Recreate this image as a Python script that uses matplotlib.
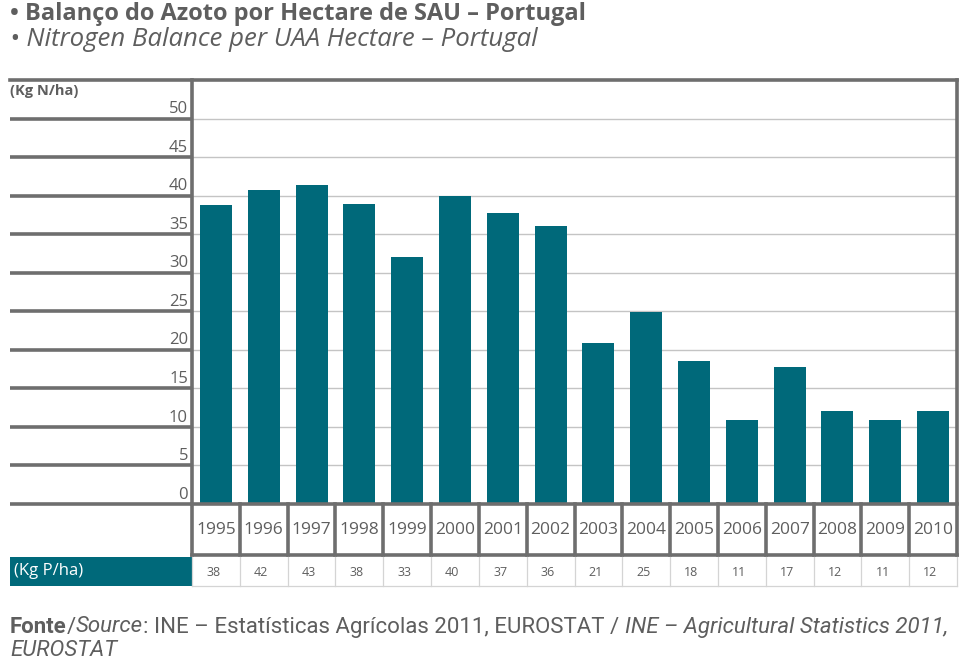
import matplotlib
matplotlib.use("Agg")
import matplotlib.pyplot as plt
from matplotlib.lines import Line2D
from matplotlib.patches import Rectangle
from matplotlib.transforms import blended_transform_factory
import numpy as np

years = ["1995", "1996", "1997", "1998", "1999", "2000", "2001", "2002",
         "2003", "2004", "2005", "2006", "2007", "2008", "2009", "2010"]
n_values = [38.8, 40.7, 41.4, 38.9, 32.0, 40.0, 37.7, 36.0,
            20.9, 24.9, 18.5, 10.9, 17.8, 12.1, 10.9, 12.1]
p_values = [38, 42, 43, 38, 33, 40, 37, 36, 21, 25, 18, 11, 17, 12, 11, 12]
yticks = [0, 5, 10, 15, 20, 25, 30, 35, 40, 45, 50]

TEAL = "#00697a"
DARK = "#6e6e6e"
LIGHT = "#c4c4c4"
TXT = "#5e5e5e"

W, H = 973, 665
fig = plt.figure(figsize=(W / 100, H / 100), dpi=100)
fx = lambda x: x / W
fy = lambda y: 1 - y / H

L, R, T, B = 192, 957, 80, 504
ax = fig.add_axes([fx(L), fy(B), fx(R) - fx(L), fy(T) - fy(B)])
ax.set_xlim(-0.5, len(years) - 0.5)
ax.set_ylim(0, 55)
for s in ax.spines.values():
    s.set_visible(False)
ax.set_xticks([])
ax.set_yticks([])

# light grid inside
for v in yticks[1:]:
    ax.axhline(v, color=LIGHT, lw=1.0, zorder=0)

x = np.arange(len(years))
ax.bar(x, n_values, width=0.67, color=TEAL, zorder=2)

bt = blended_transform_factory(fig.transFigure, ax.transData)
# left thick grid lines + tick labels
for v in yticks:
    fig.add_artist(Line2D([fx(10), fx(L)], [v, v], transform=bt, color=DARK, lw=2.6, solid_capstyle="butt"))
for v in yticks:
    ax.annotate(str(v), xy=(fx(188), v), xycoords=bt, xytext=(0, 1.0), textcoords="offset points",
                ha="right", va="bottom", fontsize=12, color=TXT, family="Open Sans")

# frame
def fline(x0, y0, x1, y1, color=DARK, lw=2.6):
    fig.add_artist(Line2D([fx(x0), fx(x1)], [fy(y0), fy(y1)], transform=fig.transFigure,
                          color=color, lw=lw, solid_capstyle="projecting"))

fline(10, T, R, T)
fline(L, T, L, 555)
fline(R, T, R, 555)
fline(L, B, R, B)
fline(L, 555, R, 555)

bx = blended_transform_factory(ax.transData, fig.transFigure)
for i in range(1, len(years)):
    fig.add_artist(Line2D([i - 0.5, i - 0.5], [fy(B), fy(555)], transform=bx, color=DARK, lw=2.6))
for i, yr in enumerate(years):
    fig.text(i, fy(530), yr, transform=bx, ha="center", va="center", fontsize=12.5,
             color=TXT, family="Open Sans")

# P table row
fig.add_artist(Rectangle((fx(10), fy(586)), fx(L) - fx(10), fy(557) - fy(586),
                         transform=fig.transFigure, color=TEAL, lw=0))
fig.text(fx(14), fy(571), "(Kg P/ha)", ha="left", va="center", fontsize=12, color="white",
         family="Open Sans")
for i in range(len(years) + 1):
    fig.add_artist(Line2D([i - 0.5, i - 0.5], [fy(557), fy(586)], transform=bx, color="#d4d4d4", lw=0.9))
fig.add_artist(Line2D([fx(L), fx(R)], [fy(586), fy(586)], transform=fig.transFigure, color="#d4d4d4", lw=0.9))
for i, v in enumerate(p_values):
    ax.annotate(str(v), xy=(i + 0.5, fy(572)), xycoords=bx, xytext=(-14, 0), textcoords="offset points",
                ha="right", va="center", fontsize=9, color=TXT, family="Open Sans")

# Y unit label
fig.text(fx(10), fy(91), "(Kg N/ha)", ha="left", va="center", fontsize=10.5, color=TXT,
         family="Open Sans", weight="bold")

# Titles
fig.text(fx(10), fy(14), "• Balanço do Azoto por Hectare de SAU – Portugal", ha="left", va="center",
         fontsize=17, color=TXT, family="Open Sans", weight="bold")
fig.text(fx(10), fy(40), "• Nitrogen Balance per UAA Hectare – Portugal", ha="left", va="center",
         fontsize=18.5, color=TXT, family="Open Sans", style="italic")

# Footer with mixed styles
fig.canvas.draw()
renderer = fig.canvas.get_renderer()
fam = ["Liberation Sans Narrow", "Roboto"]
def seq(pieces, x0, y0, size):
    xcur = fx(x0)
    for txt, kw in pieces:
        t = fig.text(xcur, fy(y0), txt, ha="left", va="center", fontsize=size, color=TXT,
                     family=fam, **kw)
        bb = t.get_window_extent(renderer)
        xcur = bb.x1 / W
seq([("Fonte", dict(weight="bold")), ("/", {}), ("Source", dict(style="italic")),
     (": INE – Estatísticas Agrícolas 2011, EUROSTAT / ", {}),
     ("INE – Agricultural Statistics 2011,", dict(style="italic"))], 10, 627, 16)
seq([("EUROSTAT", dict(style="italic"))], 10, 650, 16)

fig.savefig("out.png", dpi=100)
